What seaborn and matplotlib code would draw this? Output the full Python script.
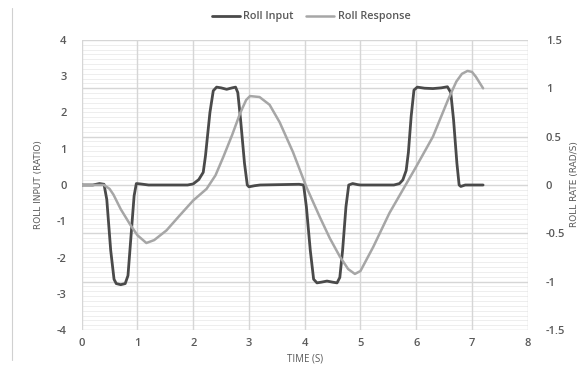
import numpy as np
import pandas as pd
import matplotlib
matplotlib.use("Agg")
import matplotlib.pyplot as plt
import seaborn as sns
from matplotlib.lines import Line2D

# ---------------- data ----------------
input_time = [0, 0.2, 0.32, 0.4, 0.45, 0.52, 0.58, 0.62, 0.7, 0.78, 0.83, 0.88, 0.94, 0.98,
              1.05, 1.2, 1.9, 2.0, 2.1, 2.18, 2.22, 2.3, 2.36, 2.42, 2.5, 2.6, 2.7, 2.76,
              2.8, 2.85, 2.92, 2.97, 3.0, 3.1, 3.2, 3.9, 3.98, 4.03, 4.1, 4.16, 4.22, 4.3,
              4.4, 4.5, 4.58, 4.63, 4.68, 4.74, 4.79, 4.86, 4.95, 5.0, 5.6, 5.7, 5.76, 5.82,
              5.86, 5.91, 5.96, 6.02, 6.15, 6.3, 6.45, 6.56, 6.62, 6.67, 6.73, 6.77, 6.8,
              6.88, 7.2]
roll_input = [0, 0, 0.04, 0.02, -0.4, -1.8, -2.6, -2.72, -2.75, -2.72, -2.5, -1.5, -0.3, 0.04,
              0.03, 0.0, 0.0, 0.03, 0.15, 0.35, 0.8, 2.0, 2.6, 2.7, 2.68, 2.64, 2.68, 2.7,
              2.55, 1.8, 0.6, 0.0, -0.05, -0.02, 0.0, 0.02, 0.0, -0.6, -1.8, -2.6, -2.7, -2.68,
              -2.65, -2.68, -2.7, -2.55, -1.8, -0.6, 0.0, 0.04, 0.01, 0.0, 0.0, 0.04, 0.14, 0.4,
              0.9, 1.9, 2.62, 2.7, 2.67, 2.66, 2.68, 2.71, 2.55, 1.8, 0.6, 0.0, -0.04,
              0.0, 0.0]

response_time = [0, 0.3, 0.4, 0.5, 0.57, 0.7, 0.87, 1.0, 1.16, 1.3, 1.52, 1.75, 2.0, 2.12,
                 2.24, 2.4, 2.54, 2.7, 2.84, 2.95, 3.02, 3.19, 3.37, 3.55, 3.79, 4.03, 4.27,
                 4.45, 4.63, 4.78, 4.9, 5.0, 5.23, 5.52, 5.76, 6.0, 6.3, 6.57, 6.72, 6.82,
                 6.92, 7.0, 7.07, 7.2]
roll_response = [0, 0.0, 0.0, -0.04, -0.10, -0.25, -0.41, -0.52, -0.60, -0.57, -0.47, -0.32,
                 -0.16, -0.10, -0.04, 0.1, 0.29, 0.52, 0.74, 0.88, 0.92, 0.91, 0.83, 0.65,
                 0.34, -0.02, -0.33, -0.55, -0.74, -0.87, -0.92, -0.89, -0.64, -0.29, -0.05,
                 0.19, 0.5, 0.88, 1.07, 1.15, 1.18, 1.17, 1.12, 1.0]

x_ticks = [0, 1, 2, 3, 4, 5, 6, 7, 8]
left_ticks = [-4, -3, -2, -1, 0, 1, 2, 3, 4]
right_ticks = [-1.5, -1, -0.5, 0, 0.5, 1, 1.5]

df_in = pd.DataFrame({"t": input_time, "v": roll_input})
df_resp = pd.DataFrame({"t": response_time, "v": roll_response})

# ---------------- style ----------------
sns.set_theme(style="white")
plt.rcParams["font.family"] = ["Open Sans", "DejaVu Sans"]
txt_col = "#595959"
dark = "#4a4a4a"
light = "#a6a6a6"

fig = plt.figure(figsize=(5.82, 3.67), dpi=100)
ax1 = fig.add_axes([81.7 / 582, 37 / 367, 446 / 582, 290 / 367])
ax2 = ax1.twinx()

ax1.set_xlim(0, 8)
ax1.set_ylim(-4, 4)
ax2.set_ylim(-1.5, 1.5)

# grid (drawn on ax1 so it stays beneath both lines)
scale = 8 / 3
for v in np.arange(-1.5, 1.5001, 0.05):
    ax1.axhline(v * scale, color="#ebebeb", lw=0.6, zorder=0)
for v in right_ticks:
    ax1.axhline(v * scale, color="#d6d6d6", lw=1.0, zorder=0)
for v in x_ticks:
    ax1.axvline(v, color="#d6d6d6", lw=1.0, zorder=0)

sns.lineplot(data=df_in, x="t", y="v", ax=ax1, color=dark, lw=2.0, zorder=3,
             legend=False)
sns.lineplot(data=df_resp, x="t", y="v", ax=ax2, color=light, lw=1.8, zorder=3,
             legend=False)

for ax in (ax1, ax2):
    for s in ax.spines.values():
        s.set_visible(False)
    ax.tick_params(length=0, labelsize=8, colors=txt_col)

ax1.set_xticks(x_ticks)
ax1.set_xticklabels([str(v) for v in x_ticks], fontweight="semibold")
ax1.set_yticks(left_ticks)
ax1.set_yticklabels([str(v) for v in left_ticks], fontweight="semibold")
ax2.set_yticks(right_ticks)
ax2.set_yticklabels([f"{v:g}" for v in right_ticks], fontweight="semibold")
ax1.tick_params(axis="y", pad=11)
ax1.tick_params(axis="x", pad=6)
ax2.tick_params(axis="y", pad=13)

ax1.set_xlabel("TIME (S)", fontsize=7, color=txt_col, labelpad=3)
ax1.set_ylabel("")
ax2.set_ylabel("")
fig.text(38 / 582, 1 - 185 / 367, "ROLL INPUT (RATIO)", rotation=90, ha="center",
         va="center", fontsize=6.5, color=txt_col,
         family=["Liberation Sans Narrow", "DejaVu Sans"])
fig.text(570 / 582, 1 - 184 / 367, "ROLL RATE (RAD/S)", rotation=90, ha="left",
         va="center", fontsize=6.5, color=txt_col,
         family=["Liberation Sans Narrow", "DejaVu Sans"])

# legend
handles = [Line2D([0], [0], color=dark, lw=2.0), Line2D([0], [0], color=light, lw=1.8)]
leg = fig.legend(handles, ["Roll Input", "Roll Response"], loc="center",
                 bbox_to_anchor=(311 / 582, 1 - 17 / 367), ncol=2, frameon=False,
                 fontsize=7.8, labelcolor=txt_col, handlelength=2.6, handletextpad=0.3,
                 columnspacing=1.2)
for t in leg.get_texts():
    t.set_fontweight("semibold")

# page frame line at left
fig.add_artist(Line2D([12 / 582, 12 / 582], [1 - 8 / 367, 1 - 360 / 367],
                      transform=fig.transFigure, color="#d0d0d0", lw=0.8))

fig.savefig("out.png", dpi=100, facecolor="white")
